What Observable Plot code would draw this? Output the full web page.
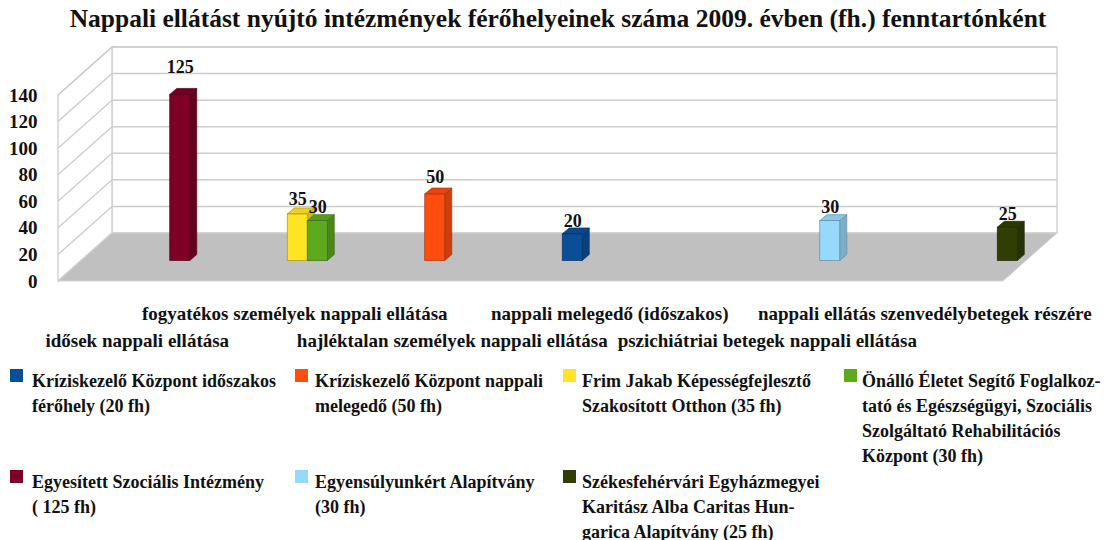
<!DOCTYPE html>
<html>
<head>
<meta charset="utf-8">
<script src="https://cdn.jsdelivr.net/npm/d3@7"></script>
<script src="https://cdn.jsdelivr.net/npm/@observablehq/plot@0.6"></script>
<style>
  body { margin: 0; background: #fff; font-family: "Liberation Serif", "Times New Roman", serif; color: #111; }
  #wrap { position: relative; width: 1116px; height: 540px; overflow: hidden; background: #fff; }
  #title { position: absolute; left: 0; top: 0; width: 1116px; text-align: center; font-weight: bold; font-size: 25.5px; line-height: 38px; white-space: nowrap; }
  #chart { position: absolute; left: 0; top: 40px; }
  #legend { position: absolute; left: 0; top: 360px; width: 1116px; height: 180px; }
  .item { position: absolute; font-weight: bold; font-size: 18px; line-height: 25px; white-space: pre; color: #111; }
  .sw { position: absolute; width: 13px; height: 13px; }
</style>
</head>
<body>
<div id="wrap">
  <div id="title"></div>
  <div id="chart"></div>
  <div id="legend"></div>
</div>
<script>
const titleText = "Nappali ellátást nyújtó intézmények férőhelyeinek száma 2009. évben (fh.) fenntartónként";

const categories = [
  "idősek nappali ellátása",
  "fogyatékos személyek nappali ellátása",
  "hajléktalan személyek nappali ellátása",
  "nappali melegedő (időszakos)",
  "pszichiátriai betegek nappali ellátása",
  "nappali ellátás szenvedélybetegek részére"
];

const series = [
  "Kríziskezelő Központ időszakos\nférőhely (20 fh)",
  "Kríziskezelő Központ nappali\nmelegedő (50 fh)",
  "Frim Jakab Képességfejlesztő\nSzakosított Otthon (35 fh)",
  "Önálló Életet Segítő Foglalkoz-\ntató és Egészségügyi, Szociális\nSzolgáltató Rehabilitációs\nKözpont (30 fh)",
  "Egyesített Szociális Intézmény\n( 125 fh)",
  "Egyensúlyunkért Alapítvány\n(30 fh)",
  "Székesfehérvári Egyházmegyei\nKaritász Alba Caritas Hun-\ngarica Alapítvány (25 fh)"
];

const seriesColors = ["#0b4e98", "#ff4d10", "#ffe425", "#5da920", "#7e0027", "#97d9fb", "#303d04"];

const seriesCategory = [
  "nappali melegedő (időszakos)",
  "hajléktalan személyek nappali ellátása",
  "fogyatékos személyek nappali ellátása",
  "fogyatékos személyek nappali ellátása",
  "idősek nappali ellátása",
  "pszichiátriai betegek nappali ellátása",
  "nappali ellátás szenvedélybetegek részére"
];

const seriesValues = [20, 50, 35, 30, 125, 30, 25];

const yTicks = [0, 20, 40, 60, 80, 100, 120, 140];

// --- layout / 3D projection constants (pixels) ---
const W = 1116, H = 318;
const wallDepth = {dx: 54, dy: -48};
const barPlane = {dx: 23, dy: -20.5};
const barDepth = {dx: 7, dy: -6};
const gridColor = "#cccccc";
const font = "'Liberation Serif', 'Times New Roman', serif";

document.getElementById("title").textContent = titleText;

// slot of each series within a category (clustered 3D column chart)
const slot = d3.scaleBand(d3.range(series.length), [0, 1]).paddingInner(0).paddingOuter(0.4375);

const bars = series.map((s, i) => {
  const cat = categories.indexOf(seriesCategory[i]);
  const x1 = cat + slot(i);
  return {i, series: s, value: seriesValues[i], color: seriesColors[i], x1, x2: x1 + slot.bandwidth()};
});

function walls(index, scales) {
  const x = scales.x, y = scales.y;
  const g = d3.create("svg:g");
  const x0 = x(0), x1 = x(categories.length);
  const yb = y(0), yt = y(yTicks[yTicks.length - 1]);
  const dx = wallDepth.dx, dy = wallDepth.dy;
  // back wall
  g.append("rect").attr("x", x0 + dx).attr("y", yt + dy).attr("width", x1 - x0)
    .attr("height", yb - yt).attr("fill", "#fff").attr("stroke", gridColor).attr("stroke-width", 1.3);
  // left wall
  g.append("path").attr("d", `M${x0},${yb}L${x0},${yt}L${x0 + dx},${yt + dy}L${x0 + dx},${yb + dy}Z`)
    .attr("fill", "#fff").attr("stroke", gridColor).attr("stroke-width", 1.3);
  // gridlines
  for (const v of yTicks) {
    g.append("line").attr("x1", x0 + dx).attr("x2", x1 + dx).attr("y1", y(v) + dy).attr("y2", y(v) + dy)
      .attr("stroke", gridColor).attr("stroke-width", 1.5);
    g.append("line").attr("x1", x0).attr("x2", x0 + dx).attr("y1", y(v)).attr("y2", y(v) + dy)
      .attr("stroke", gridColor).attr("stroke-width", 1.3);
  }
  // floor
  g.append("path").attr("d", `M${x0},${yb}L${x1},${yb}L${x1 + dx},${yb + dy}L${x0 + dx},${yb + dy}Z`)
    .attr("fill", "#c0c0c0").attr("stroke", "#d6d6d6").attr("stroke-width", 1);
  return g.node();
}

function barFaces(index, scales) {
  const x = scales.x, y = scales.y;
  const g = d3.create("svg:g");
  const ox = barPlane.dx, oy = barPlane.dy, ddx = barDepth.dx, ddy = barDepth.dy;
  for (const b of bars) {
    const xl = x(b.x1) + ox, xr = x(b.x2) + ox, yt = y(b.value) + oy, yb = y(0) + oy;
    const c = d3.color(b.color);
    const edge = c.darker(1.2).formatHex();
    g.append("path").attr("d", `M${xr},${yb}L${xr},${yt}L${xr + ddx},${yt + ddy}L${xr + ddx},${yb + ddy}Z`)
      .attr("fill", c.darker(0.6).formatHex()).attr("stroke", edge).attr("stroke-width", 0.7);
    g.append("path").attr("d", `M${xl},${yt}L${xr},${yt}L${xr + ddx},${yt + ddy}L${xl + ddx},${yt + ddy}Z`)
      .attr("fill", c.darker(0.25).formatHex()).attr("stroke", edge).attr("stroke-width", 0.7);
  }
  return g.node();
}

const upper = categories.filter((d, i) => i % 2 === 1);
const lower = categories.filter((d, i) => i % 2 === 0);

const chart = Plot.plot({
  width: W,
  height: H,
  marginLeft: 58,
  marginRight: 113,
  marginTop: 55,
  marginBottom: 77,
  x: {domain: [0, categories.length], axis: null},
  y: {domain: [0, 140], ticks: yTicks, tickSize: 0, tickPadding: 21, label: null, tickFormat: d => String(d)},
  style: {fontFamily: font, fontSize: "19px", fontWeight: "bold", color: "#111", background: "transparent", overflow: "visible"},
  marks: [
    walls,
    barFaces,
    Plot.rectY(bars, {
      x1: "x1", x2: "x2", y: "value", fill: "color",
      stroke: d => d3.color(d.color).darker(1.2).formatHex(), strokeWidth: 0.7,
      dx: barPlane.dx, dy: barPlane.dy
    }),
    Plot.text(bars, {
      x: d => (d.x1 + d.x2) / 2, y: d => d.value * 1.107, text: d => String(d.value),
      dx: barPlane.dx, dy: barPlane.dy - 10, fontSize: 18, fontWeight: "bold", fill: "#111"
    }),
    Plot.text(upper, {x: d => categories.indexOf(d) + 0.5, y: () => 0, text: d => d, dy: 32, fontSize: 19, fontWeight: "bold", fill: "#111"}),
    Plot.text(lower, {x: d => categories.indexOf(d) + 0.5, y: () => 0, text: d => d, dy: 59, fontSize: 19, fontWeight: "bold", fill: "#111"})
  ]
});
document.getElementById("chart").appendChild(chart);

// legend (4 columns, 2 rows)
const legendCols = [{sw: 10, tx: 32}, {sw: 295, tx: 315}, {sw: 563, tx: 582}, {sw: 844, tx: 862}];
const legendRows = [{sw: 9, tx: 8.5}, {sw: 110, tx: 109.5}];
const legend = document.getElementById("legend");
series.forEach((s, i) => {
  const col = legendCols[i % 4], row = legendRows[Math.floor(i / 4)];
  const sw = document.createElement("div");
  sw.className = "sw";
  sw.style.left = col.sw + "px";
  sw.style.top = row.sw + "px";
  sw.style.background = seriesColors[i];
  legend.appendChild(sw);
  const t = document.createElement("div");
  t.className = "item";
  t.style.left = col.tx + "px";
  t.style.top = row.tx + "px";
  t.textContent = s;
  legend.appendChild(t);
});
</script>
</body>
</html>
